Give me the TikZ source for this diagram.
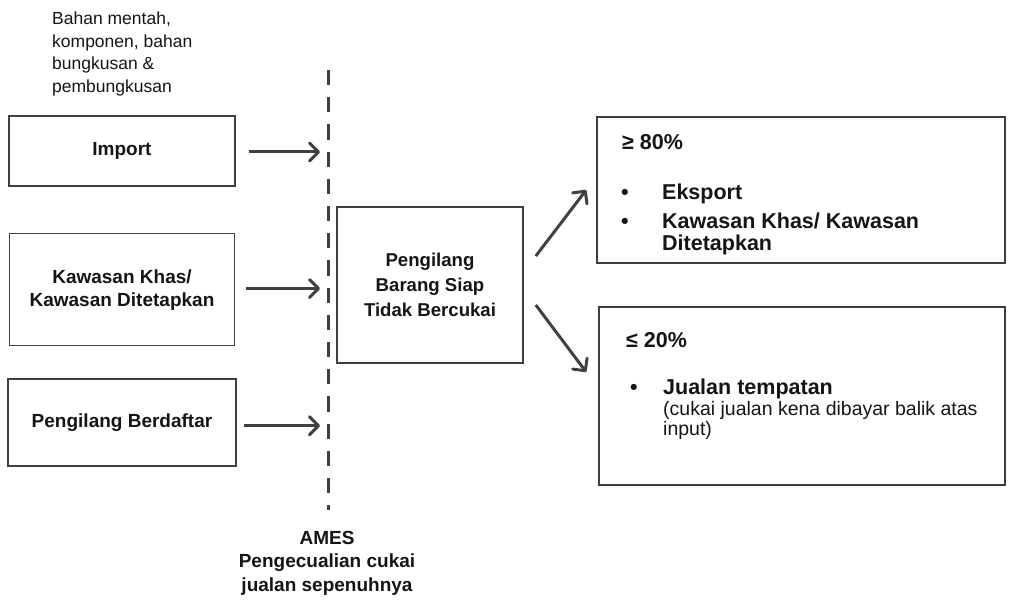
\documentclass[tikz,border=0pt]{standalone}
\usepackage{fontspec}
\setmainfont{Liberation Sans}
\usepackage{tikz}
\usepackage{xcolor}
\usetikzlibrary{arrows.meta, positioning}
\definecolor{linegray}{HTML}{404040}
\definecolor{inkblack}{HTML}{151515}
\tikzstyle{srcbox} = [rectangle, 
draw=linegray, 
line width=1.6pt, 
inner sep=0pt, 
text=inkblack, 
align=center, 
font=\bfseries\fontsize{19}{23}\selectfont]
\tikzstyle{note} = [inner sep=0pt, 
text=inkblack, 
align=left]
\tikzstyle{arrow} = [draw=linegray, line width=3pt, -{Straight Barb[length=9pt,width=18pt,round]}]
\tikzstyle{border} = [draw=linegray, line width=3pt, dash pattern=on 15.2pt off 12pt]

\begin{document}
\begin{tikzpicture}[x=1pt, y=-1pt, node distance=46pt]
        \useasboundingbox (0,0) rectangle (1009,601);

        % --- Nodes ---
        \node (raw) [note, anchor=west, font=\fontsize{17.5}{22.7}\selectfont] at (52,54) {Bahan mentah,\\ komponen, bahan\\ bungkusan \&\\ pembungkusan};

        \node (import) [srcbox, minimum width=226pt, minimum height=70pt] at (122,151) {Import};

        \node (kawasan) [srcbox, minimum width=225pt, minimum height=112pt, below=of import] {Kawasan Khas/\\ Kawasan Ditetapkan};

        \node (berdaftar) [srcbox, minimum width=228pt, minimum height=87pt, below=32pt of kawasan] {Pengilang Berdaftar};

        \coordinate (ltop) at (328,70);
        \coordinate (lbot) at (328,510);

        \node (mid) [srcbox, minimum width=186pt, minimum height=156pt, font=\bfseries\fontsize{18.6}{25}\selectfont] at (430,285) {Pengilang\\ Barang Siap\\ Tidak Bercukai};

        \node (high) [srcbox, minimum width=408pt, minimum height=146pt] at (801,190) {};
        \node (hightitle) [note, anchor=west, font=\bfseries\fontsize{21.5}{24}\selectfont] at (622,142) {≥ 80\%};
        \node (highlist) [note, anchor=base west, font=\bfseries\fontsize{21.5}{22}\selectfont] at (621,200) {\begin{tabular}[t]{@{}p{41pt}@{}l@{}}
            \textbullet & Eksport\\[6pt]
            \textbullet & Kawasan Khas/ Kawasan\\
            & Ditetapkan
        \end{tabular}};

        \node (low) [srcbox, minimum width=406pt, minimum height=178pt] at (802,396) {};
        \node (lowtitle) [note, anchor=west, font=\bfseries\fontsize{21.5}{24}\selectfont] at (626,340) {≤ 20\%};
        \node (lowlist) [note, anchor=base west, font=\bfseries\fontsize{21.5}{20}\selectfont] at (630,395) {\begin{tabular}[t]{@{}p{33pt}@{}l@{}}
            \textbullet & Jualan tempatan\\
            & {\mdseries\fontsize{19.5}{20}\selectfont (cukai jualan kena dibayar balik atas}\\
            & {\mdseries\fontsize{19.5}{20}\selectfont input)}
        \end{tabular}};

        \node (ames) [note, align=center, font=\bfseries\fontsize{19}{23.5}\selectfont] at (327,563) {AMES\\ Pengecualian cukai\\ jualan sepenuhnya};

        % --- Connections ---
        \draw [border] (ltop) -- (lbot);
        \draw [arrow, shorten >=8pt] ([xshift=13pt,yshift=-1pt]import.east) -- ([yshift=-1pt]import.east -| ltop);
        \draw [arrow, shorten >=8pt] ([xshift=11pt,yshift=1pt]kawasan.east) -- ([yshift=1pt]kawasan.east -| ltop);
        \draw [arrow, shorten >=8pt] ([xshift=7pt,yshift=-3pt]berdaftar.east) -- ([yshift=-3pt]berdaftar.east -| ltop);
        \draw [arrow] ([xshift=12pt,yshift=29pt]mid.east) -- ([xshift=-10pt]high.west);
        \draw [arrow] ([xshift=12pt,yshift=-20pt]mid.east) -- ([xshift=-12pt,yshift=24pt]low.west);

    \end{tikzpicture}
\end{document}
